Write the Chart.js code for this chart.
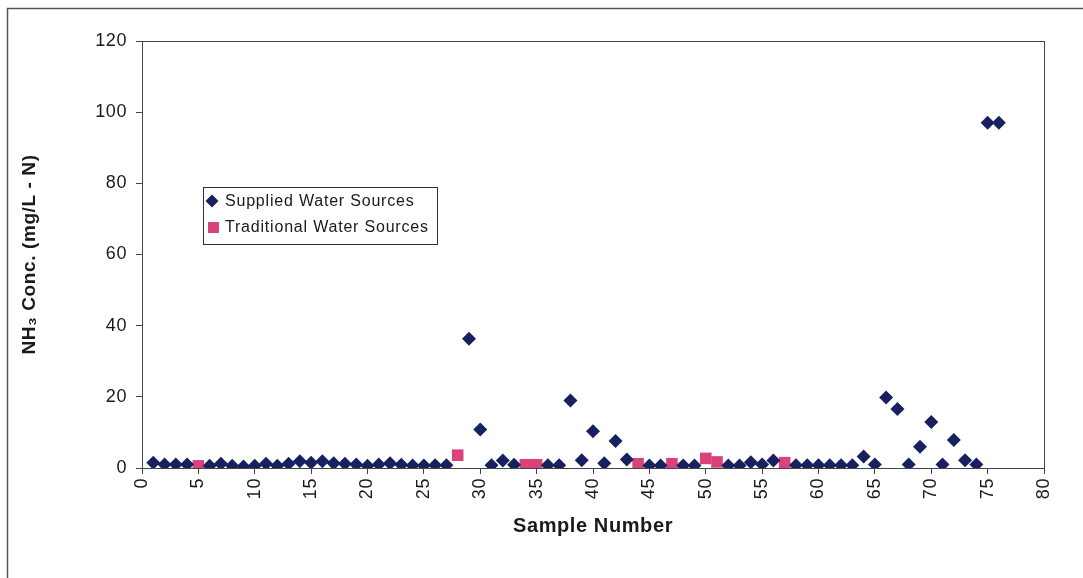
<!DOCTYPE html>
<html>
<head>
<meta charset="utf-8">
<script src="https://cdn.jsdelivr.net/npm/chart.js@4"></script>
<style>
    html, body { margin: 0; padding: 0; background: #fff; }
    #wrap { width: 1083px; height: 578px; }
</style>
</head>
<body>
<div id="wrap"><canvas id="nh3-chart" width="1083" height="578"></canvas></div>
<script>
// Sample numbers and NH3 readings (mg/L - N)
const suppliedSamples = [1, 2, 3, 4, 6, 7, 8, 9, 10, 11, 12, 13, 14, 15, 16, 17, 18, 19, 20, 21, 22, 23, 24, 25, 26, 27,
    29, 30, 31, 32, 33, 36, 37, 38, 39, 40, 41, 42, 43, 45, 46, 48, 49, 52, 53, 54, 55, 56,
    58, 59, 60, 61, 62, 63, 64, 65, 66, 67, 68, 69, 70, 71, 72, 73, 74, 75, 76];
const suppliedValues = [1.5, 1.0, 1.0, 1.0, 0.6, 1.2, 0.6, 0.4, 0.6, 1.2, 0.6, 1.2, 1.9, 1.5, 1.9, 1.3, 1.2, 1.0, 0.6, 1.0, 1.3, 0.9, 0.7, 0.7, 0.8, 0.8,
    36.3, 10.8, 0.8, 2.1, 0.9, 0.8, 0.8, 19.0, 2.2, 10.3, 1.3, 7.6, 2.4, 0.7, 0.7, 0.7, 0.7, 0.7, 0.7, 1.6, 1.0, 2.1,
    0.8, 0.8, 0.8, 0.8, 0.8, 0.8, 3.2, 1.0, 19.8, 16.6, 1.0, 6.0, 12.9, 1.0, 7.9, 2.2, 1.0, 97.0, 97.0];

const traditionalSamples = [5, 28, 34, 35, 44, 47, 50, 51, 57];
const traditionalValues = [0.6, 3.6, 0.9, 0.9, 1.2, 1.2, 2.7, 1.7, 1.5];

const seriesNames = ['Supplied Water Sources', 'Traditional Water Sources'];
const xTitle = 'Sample Number';
const yTitle = 'NH\u2083 Conc. (mg/L - N)';

const navy = '#17215f';
const pink = '#d9437a';
const axisColor = '#444';
const textColor = '#1a1a1a';

function toPoints(samples, values) {
    return samples.map((s, i) => ({ x: s, y: values[i] }));
}

// outer frame, plot box and spacing
const framePlugin = {
    id: 'frame',
    beforeDraw(chart) {
        const ctx = chart.ctx;
        ctx.letterSpacing = '0.6px';
        ctx.save();
        ctx.fillStyle = '#fff';
        ctx.fillRect(0, 0, chart.width, chart.height);
        ctx.strokeStyle = '#555';
        ctx.lineWidth = 1.5;
        ctx.strokeRect(7.5, 8.5, 1100, 600);
        ctx.restore();
    },
    beforeDatasetsDraw(chart) {
        const a = chart.chartArea;
        const ctx = chart.ctx;
        ctx.save();
        ctx.strokeStyle = axisColor;
        ctx.lineWidth = 1;
        ctx.strokeRect(Math.round(a.left) + 0.5, Math.round(a.top) + 0.5, Math.round(a.right - a.left), Math.round(a.bottom - a.top));
        ctx.restore();
    }
};

// legend box drawn inside the plot
const legendBox = {
    id: 'legendBox',
    afterDraw(chart) {
        const ctx = chart.ctx;
        ctx.save();
        ctx.letterSpacing = '0.8px';
        ctx.strokeStyle = '#333';
        ctx.lineWidth = 1;
        ctx.strokeRect(203.5, 187.5, 234, 57);

        ctx.fillStyle = navy;
        ctx.beginPath();
        ctx.moveTo(212, 194.5);
        ctx.lineTo(218.5, 201);
        ctx.lineTo(212, 207.5);
        ctx.lineTo(205.5, 201);
        ctx.closePath();
        ctx.fill();

        ctx.fillStyle = pink;
        ctx.fillRect(208, 222, 11, 11);

        ctx.fillStyle = textColor;
        ctx.font = '16px Arial, "Liberation Sans", sans-serif';
        ctx.textBaseline = 'middle';
        ctx.fillText(seriesNames[0], 225, 202);
        ctx.fillText(seriesNames[1], 225, 228);
        ctx.restore();
    }
};

document.addEventListener('DOMContentLoaded', function() {
    const ctx = document.getElementById('nh3-chart').getContext('2d');

    window.nh3Chart = new Chart(ctx, {
        type: 'scatter',
        data: {
            datasets: [{
                label: seriesNames[0],
                data: toPoints(suppliedSamples, suppliedValues),
                pointStyle: 'rectRot',
                pointRadius: 7,
                pointHoverRadius: 7,
                backgroundColor: navy,
                borderColor: navy,
                borderWidth: 0
            }, {
                label: seriesNames[1],
                data: toPoints(traditionalSamples, traditionalValues),
                pointStyle: 'rect',
                pointRadius: 8.2,
                pointHoverRadius: 8.2,
                backgroundColor: pink,
                borderColor: pink,
                borderWidth: 0
            }]
        },
        options: {
            responsive: false,
            animation: false,
            layout: {
                padding: { left: 0, top: 41, right: 39, bottom: 36 }
            },
            plugins: {
                legend: { display: false },
                tooltip: { enabled: false }
            },
            scales: {
                x: {
                    type: 'linear',
                    min: 0,
                    max: 80,
                    ticks: {
                        stepSize: 5,
                        minRotation: 90,
                        maxRotation: 90,
                        padding: 4,
                        color: textColor,
                        font: { family: 'Arial, "Liberation Sans", sans-serif', size: 18 }
                    },
                    grid: {
                        drawOnChartArea: false,
                        drawTicks: true,
                        tickLength: 6,
                        color: axisColor
                    },
                    border: { display: true, color: axisColor },
                    title: {
                        display: true,
                        text: xTitle,
                        color: textColor,
                        padding: { top: 4, bottom: 4 },
                        font: { family: 'Arial, "Liberation Sans", sans-serif', size: 20, weight: 'bold' }
                    },
                    afterFit: function(scale) { scale.height = 74; }
                },
                y: {
                    min: 0,
                    max: 120,
                    ticks: {
                        stepSize: 20,
                        padding: 9,
                        color: textColor,
                        font: { family: 'Arial, "Liberation Sans", sans-serif', size: 18 }
                    },
                    grid: {
                        drawOnChartArea: false,
                        drawTicks: true,
                        tickLength: 6,
                        color: axisColor
                    },
                    border: { display: true, color: axisColor },
                    title: {
                        display: true,
                        text: yTitle,
                        color: textColor,
                        padding: { top: 18, bottom: 4 },
                        font: { family: 'Arial, "Liberation Sans", sans-serif', size: 19, weight: 'bold' }
                    },
                    afterFit: function(scale) { scale.width = 142; }
                }
            }
        },
        plugins: [framePlugin, legendBox]
    });
});
</script>
</body>
</html>
